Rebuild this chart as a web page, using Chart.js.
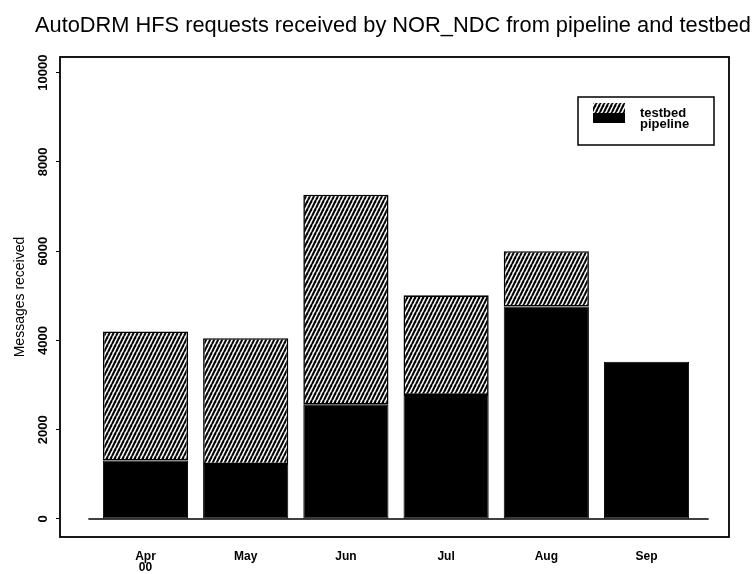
<!DOCTYPE html>
<html>
<head>
<meta charset="utf-8">
<script src="https://cdn.jsdelivr.net/npm/chart.js@4.4.0/dist/chart.umd.min.js"></script>
<style>
  html, body { margin: 0; padding: 0; background: #fff; }
  #c { display: block; }
</style>
</head>
<body>
<canvas id="c" width="755" height="574"></canvas>
<script>
// Monthly AutoDRM HFS request counts, split by source
const months = ['Apr', 'May', 'Jun', 'Jul', 'Aug', 'Sep'];
const tickLabels = [['Apr', '00'], 'May', 'Jun', 'Jul', 'Aug', 'Sep'];
const pipeline = [1310, 1230, 2560, 2780, 4760, 3520];
const testbed = [2890, 2820, 4705, 2230, 1240, 0];
const yTicks = [0, 2000, 4000, 6000, 8000, 10000];

const FONT = '"Liberation Sans", Arial, Helvetica, sans-serif';

// Diagonal hatch fill used for the testbed segments
function makeHatch() {
  const t = document.createElement('canvas');
  t.width = 4; t.height = 8;
  const g = t.getContext('2d');
  g.fillStyle = '#fff';
  g.fillRect(0, 0, 4, 8);
  g.strokeStyle = '#000';
  g.lineWidth = 2.1;
  for (let k = -1; k <= 1; k++) {
    g.beginPath();
    g.moveTo(k * 4, 8);
    g.lineTo(k * 4 + 4, 0);
    g.stroke();
  }
  return g.createPattern(t, 'repeat');
}

const ctx = document.getElementById('c').getContext('2d');
const hatch = makeHatch();

const toPoints = arr => arr.map((v, i) => ({ x: i, y: v }));

// Heading drawn across the top of the canvas
const headingPlugin = {
  id: 'heading',
  afterDraw(chart) {
    const c = chart.ctx;
    c.save();
    c.fillStyle = '#000';
    c.font = '21.8px ' + FONT;
    c.textBaseline = 'alphabetic';
    c.textAlign = 'left';
    c.fillText('AutoDRM HFS requests received by NOR_NDC from pipeline and testbed', 35, 32);
    c.restore();
  }
};

// Plot frame and the zero baseline
const framePlugin = {
  id: 'frame',
  afterDatasetsDraw(chart) {
    const { ctx: c, chartArea: a, scales: { x, y } } = chart;
    c.save();
    c.strokeStyle = '#000';
    c.lineWidth = 1.5;
    const y0 = y.getPixelForValue(0);
    c.beginPath();
    c.moveTo(x.getPixelForValue(-0.57), y0);
    c.lineTo(x.getPixelForValue(5.62), y0);
    c.stroke();
    c.lineWidth = 1.8;
    c.strokeRect(a.left, a.top, a.right - a.left, a.bottom - a.top);
    c.restore();
  }
};

// Boxed key in the upper right of the plot
const keyPlugin = {
  id: 'key',
  afterDraw(chart) {
    const c = chart.ctx;
    c.save();
    c.strokeStyle = '#000';
    c.lineWidth = 1.5;
    c.strokeRect(578, 97, 136, 48);
    const items = chart.data.datasets.slice().reverse();
    c.font = 'bold 13px ' + FONT;
    c.textBaseline = 'alphabetic';
    items.forEach((ds, i) => {
      c.fillStyle = ds.backgroundColor;
      c.fillRect(593, 103 + i * 10, 32, 10);
      c.fillStyle = '#000';
      c.fillText(ds.label, 640, 117 + i * 11);
    });
    c.restore();
  }
};

new Chart(ctx, {
  type: 'bar',
  data: {
    datasets: [
      {
        label: 'pipeline',
        data: toPoints(pipeline),
        backgroundColor: '#000',
        borderColor: '#000',
        borderWidth: 1,
        borderSkipped: false
      },
      {
        label: 'testbed',
        data: toPoints(testbed),
        backgroundColor: hatch,
        borderColor: '#000',
        borderWidth: 1.6,
        borderSkipped: false
      }
    ]
  },
  options: {
    responsive: false,
    animation: false,
    devicePixelRatio: 1,
    barPercentage: 0.85,
    categoryPercentage: 1,
    layout: { padding: { left: 0, right: 26, top: 57, bottom: 0 } },
    plugins: {
      legend: { display: false },
      tooltip: { enabled: false },
      title: { display: false }
    },
    scales: {
      x: {
        type: 'linear',
        stacked: true,
        offset: false,
        min: -0.853,
        max: 5.823,
        afterBuildTicks(scale) {
          scale.ticks = months.map((m, i) => ({ value: i }));
        },
        afterFit(scale) { scale.height = 37; },
        grid: { display: false, drawTicks: false, offset: false },
        border: { display: false },
        ticks: {
          color: '#000',
          font: { family: FONT, size: 12, weight: 'bold', lineHeight: 0.95 },
          padding: 14,
          maxRotation: 0,
          autoSkip: false,
          callback: (v) => tickLabels[v]
        }
      },
      y: {
        type: 'linear',
        stacked: true,
        min: -404,
        max: 10350,
        afterBuildTicks(scale) {
          scale.ticks = yTicks.map(v => ({ value: v }));
        },
        afterFit(scale) { scale.width = 60; },
        grid: {
          display: true,
          drawOnChartArea: false,
          drawTicks: true,
          tickLength: 4,
          color: '#000',
          lineWidth: 1
        },
        border: { display: false },
        ticks: {
          color: '#000',
          font: { family: FONT, size: 13, weight: 'bold' },
          minRotation: 90,
          maxRotation: 90,
          crossAlign: 'center',
          padding: -5,
          callback: (v) => String(v)
        },
        title: {
          display: true,
          text: 'Messages received',
          color: '#000',
          font: { family: FONT, size: 14 },
          padding: { top: 12, bottom: 0 }
        }
      }
    }
  },
  plugins: [headingPlugin, framePlugin, keyPlugin]
});
</script>
</body>
</html>
